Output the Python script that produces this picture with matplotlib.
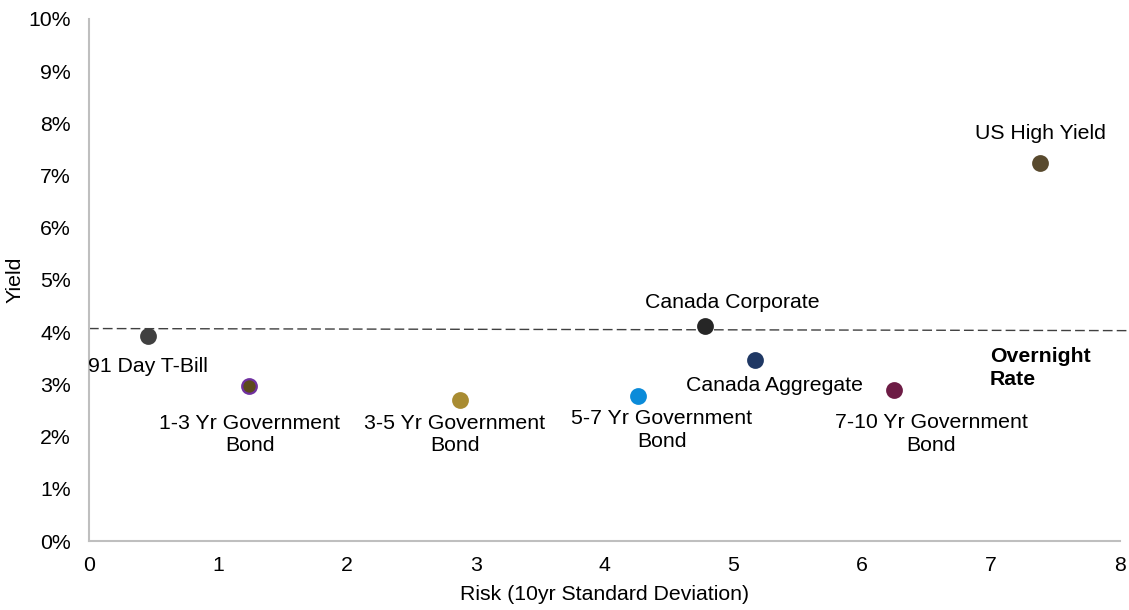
import matplotlib
matplotlib.use('Agg')
import matplotlib.pyplot as plt
from matplotlib.ticker import FuncFormatter

plt.rcParams['font.family'] = ['Liberation Sans', 'DejaVu Sans']

# asset classes: risk (10yr std dev) vs yield (%)
names = ['91 Day T-Bill', '1-3 Yr Government\nBond', '3-5 Yr Government\nBond',
         '5-7 Yr Government\nBond', 'Canada Corporate', 'Canada Aggregate',
         '7-10 Yr Government\nBond', 'US High Yield']
risk = [0.46, 1.24, 2.88, 4.26, 4.78, 5.17, 6.25, 7.38]
yields = [3.93, 2.96, 2.70, 2.78, 4.11, 3.47, 2.89, 7.25]

overnight_x = [0, 8.05]
overnight_y = [4.07, 4.03]

face_colors = ['#404040', '#5c4a1c', '#a98c32', '#0b8bd9', '#262626',
               '#1f3864', '#6d1c45', '#594a2e']
edge_colors = ['#404040', '#7030a0', '#a98c32', '#0b8bd9', '#262626',
               '#1f3864', '#6d1c45', '#594a2e']
# label offsets in points from each dot
offsets = [(0, -22), (0.7, -34.5), (-4, -24.8), (17, -24.5), (20, 17),
           (13.5, -18.7), (26.5, -31.5), (0, 20.6)]

FS = 15.3

fig = plt.figure(figsize=(11.29, 6.10), dpi=100)
ax = fig.add_axes([0.0788, 0.1131, 0.9132, 0.8558])

ax.plot(overnight_x, overnight_y, color='#404040', lw=1.0,
        dashes=(7, 3), clip_on=False, zorder=1)

for i in range(len(names)):
    ax.scatter(risk[i], yields[i], s=110, color=face_colors[i],
               edgecolors=edge_colors[i], linewidths=1.6, zorder=3)
    ax.annotate(names[i], (risk[i], yields[i]), xytext=offsets[i],
                textcoords='offset points', ha='center', va='center',
                fontsize=FS, linespacing=1.25, color='black')

ax.text(6.99, 3.31, 'Overnight\nRate', fontsize=FS, fontweight='bold',
        ha='left', va='center', linespacing=1.25)

ax.set_xlim(0, 8)
ax.set_ylim(0, 10)
ax.set_xticks(range(0, 9))
ax.set_yticks(range(0, 11))
ax.yaxis.set_major_formatter(FuncFormatter(lambda v, p: '%d%%' % v))
ax.tick_params(length=0, labelsize=FS, colors='black')
ax.tick_params(axis='y', pad=13)
ax.tick_params(axis='x', pad=11)

for s in ['top', 'right']:
    ax.spines[s].set_visible(False)
for s in ['left', 'bottom']:
    ax.spines[s].set_color('#bfbfbf')
    ax.spines[s].set_linewidth(1.5)

ax.set_xlabel('Risk (10yr Standard Deviation)', fontsize=FS, labelpad=7)
ax.set_ylabel('Yield', fontsize=FS, labelpad=3)

fig.savefig('out.png', dpi=100)
